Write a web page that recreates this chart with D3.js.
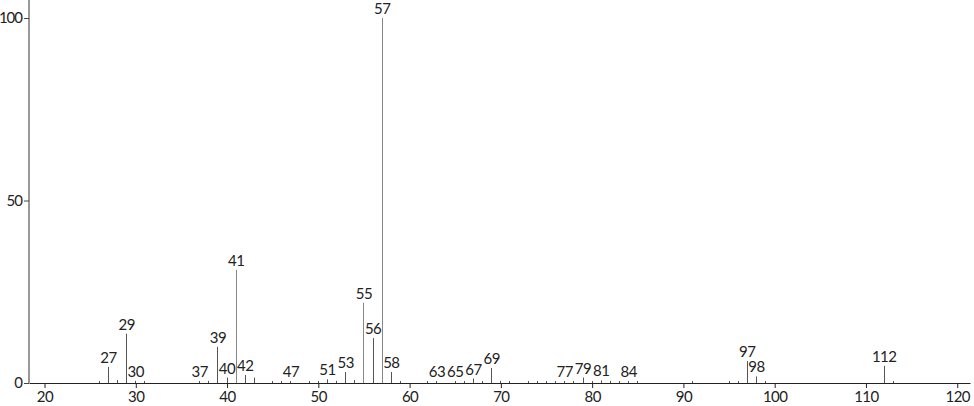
<html>
<head>
<title>Mass spectrum</title>
<script src="https://d3js.org/d3.v7.min.js"></script>
<style>
  body { margin: 0; background: #fff; }
  text { font-family: "Lato", "DejaVu Sans", sans-serif; font-size: 15px; fill: #222; }
</style>
</head>
<body>
<script>
// labelled peaks (m/z, relative intensity)
var peakMz  = [27, 29, 30, 37, 39, 40, 41, 42, 47, 51, 53, 55, 56, 57, 58, 63, 65, 67, 69, 77, 79, 81, 84, 97, 98, 112];
var peakInt = [4.4, 13.5, 0.6, 0.4, 9.9, 1.5, 31, 2.2, 0.3, 1.0, 3.0, 22, 12.3, 100, 3.0, 0.5, 0.5, 1.2, 4.1, 0.4, 1.5, 0.7, 0.5, 6.0, 1.8, 4.7];
// small unlabelled peaks
var minorMz  = [26, 28, 31, 38, 43, 45, 46, 49, 50, 52, 54, 59, 62, 66, 68, 70, 71, 73, 74, 75, 76, 78, 80, 82, 83, 85, 91, 95, 96, 99, 113];
var minorInt = [0.4, 0.8, 0.3, 0.6, 1.5, 0.3, 0.3, 0.4, 0.4, 0.6, 0.8, 0.3, 0.4, 0.5, 0.3, 0.6, 0.3, 0.3, 0.3, 0.3, 0.4, 0.4, 0.3, 0.6, 0.5, 0.3, 0.3, 0.3, 0.4, 0.3, 0.5];
var xTicks = [20, 30, 40, 50, 60, 70, 80, 90, 100, 110, 120];
var yTicks = [0, 50, 100];

var width = 974, height = 406;
var svg = d3.select("body").append("svg")
    .attr("width", width)
    .attr("height", height);

var x = d3.scaleLinear().domain([18.3, 121.4]).range([29, 970]);
var y = d3.scaleLinear().domain([0, 100]).range([383, 18]);

function px(d) { return Math.floor(x(d)) + 0.5; }

// y axis (grey)
var yAxis = svg.append("g")
    .attr("transform", "translate(29,0)")
    .call(d3.axisLeft(y).tickValues(yTicks).tickSize(5).tickPadding(2).tickSizeOuter(0));
yAxis.select(".domain").attr("d", "M0,0V383").attr("stroke", "#999").attr("stroke-width", 2);
yAxis.selectAll(".tick line").attr("stroke", "#444");
yAxis.selectAll(".tick text").attr("font-size", 15).attr("font-family", "Lato").attr("fill", "#222").attr("letter-spacing", -1);

// minor peaks
svg.selectAll(".minor").data(minorMz).enter()
    .append("line").attr("class", "minor")
    .attr("x1", px).attr("x2", px)
    .attr("y1", y(0))
    .attr("y2", function(d, i) { return Math.min(y(minorInt[i]), y(0) - 2); })
    .attr("stroke", "#555");

// labelled peaks
svg.selectAll(".peak").data(peakMz).enter()
    .append("line").attr("class", "peak")
    .attr("x1", px).attr("x2", px)
    .attr("y1", y(0))
    .attr("y2", function(d, i) { return Math.min(y(peakInt[i]), y(0) - 2); })
    .attr("stroke", function(d, i) { return peakInt[i] > 20 ? "#888" : "#555"; });

svg.selectAll(".plabel").data(peakMz).enter()
    .append("text").attr("class", "plabel")
    .attr("x", function(d) { return x(d); })
    .attr("y", function(d, i) { return Math.min(y(peakInt[i]), y(0) - 2) - 4; })
    .attr("text-anchor", "middle")
    .attr("letter-spacing", -0.5)
    .text(function(d) { return d; });

// x axis
var xAxis = svg.append("g")
    .attr("transform", "translate(0,383)")
    .call(d3.axisBottom(x).tickValues(xTicks).tickSize(5).tickPadding(3).tickSizeOuter(0));
xAxis.select(".domain").attr("stroke", "#222");
xAxis.selectAll(".tick line").attr("stroke", "#222");
xAxis.selectAll(".tick text").attr("font-size", 15).attr("font-family", "Lato").attr("fill", "#222").attr("letter-spacing", -0.5);
</script>
</body>
</html>
